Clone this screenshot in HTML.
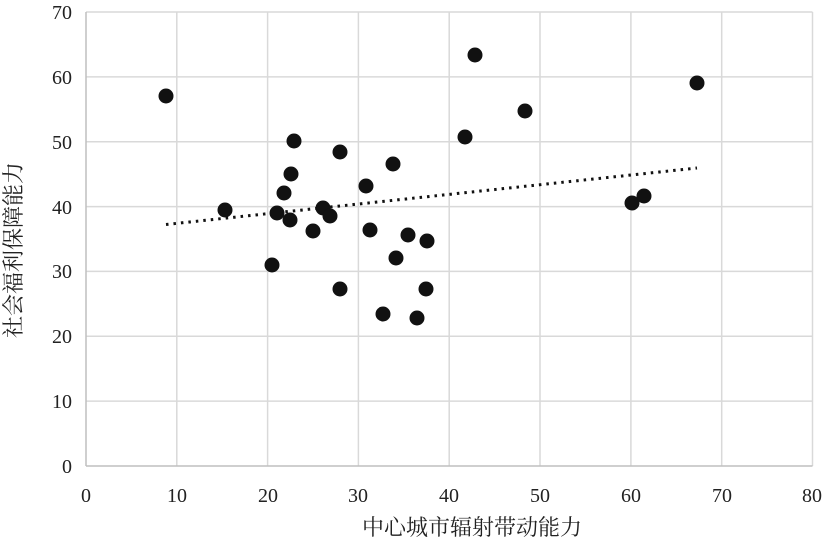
<!DOCTYPE html>
<html><head><meta charset="utf-8"><style>
html,body{margin:0;padding:0;background:#fff;}
</style></head><body>
<svg width="824" height="547" xmlns="http://www.w3.org/2000/svg" style="display:block">
<g stroke="#d9d9d9" stroke-width="1.5">
<line x1="86" y1="12" x2="812.5" y2="12"/>
<line x1="86" y1="76.9" x2="812.5" y2="76.9"/>
<line x1="86" y1="141.7" x2="812.5" y2="141.7"/>
<line x1="86" y1="206.6" x2="812.5" y2="206.6"/>
<line x1="86" y1="271.4" x2="812.5" y2="271.4"/>
<line x1="86" y1="336.3" x2="812.5" y2="336.3"/>
<line x1="86" y1="401.1" x2="812.5" y2="401.1"/>
<line x1="176.8" y1="12" x2="176.8" y2="466"/>
<line x1="267.6" y1="12" x2="267.6" y2="466"/>
<line x1="358.4" y1="12" x2="358.4" y2="466"/>
<line x1="449.2" y1="12" x2="449.2" y2="466"/>
<line x1="540" y1="12" x2="540" y2="466"/>
<line x1="630.9" y1="12" x2="630.9" y2="466"/>
<line x1="721.7" y1="12" x2="721.7" y2="466"/>
<line x1="812.5" y1="12" x2="812.5" y2="466"/>
</g>
<line x1="86" y1="12" x2="86" y2="466" stroke="#bfbfbf" stroke-width="1.5"/>
<line x1="86" y1="466" x2="812.5" y2="466" stroke="#bfbfbf" stroke-width="1.5"/>
<g font-family="Liberation Serif, serif" font-size="20" fill="#222" text-anchor="end">
<text x="72" y="19">70</text><text x="72" y="84">60</text><text x="72" y="149">50</text>
<text x="72" y="214">40</text><text x="72" y="278">30</text><text x="72" y="343">20</text>
<text x="72" y="408">10</text><text x="72" y="473">0</text>
</g>
<g font-family="Liberation Serif, serif" font-size="20" fill="#222" text-anchor="middle">
<text x="86" y="502">0</text><text x="177" y="502">10</text><text x="268" y="502">20</text>
<text x="358" y="502">30</text><text x="449" y="502">40</text><text x="540" y="502">50</text>
<text x="631" y="502">60</text><text x="722" y="502">70</text><text x="812" y="502">80</text>
</g>
<text x="472" y="535" font-family="Liberation Serif, 'Noto Serif CJK SC', serif" font-size="22" fill="#222" text-anchor="middle">中心城市辐射带动能力</text>
<text transform="translate(21,250) rotate(-90)" font-family="Liberation Serif, 'Noto Serif CJK SC', serif" font-size="22" fill="#222" text-anchor="middle">社会福利保障能力</text>
<line x1="166" y1="224.5" x2="697" y2="168" stroke="#111" stroke-width="3" stroke-dasharray="2.5,5"/>
<g fill="#111">
<circle cx="166" cy="96" r="7.5"/><circle cx="475" cy="55" r="7.5"/><circle cx="525" cy="111" r="7.5"/>
<circle cx="465" cy="137" r="7.5"/><circle cx="632" cy="203" r="7.5"/><circle cx="644" cy="196" r="7.5"/>
<circle cx="697" cy="83" r="7.5"/>
<circle cx="225" cy="210" r="7.5"/>
<circle cx="294" cy="141" r="7.5"/><circle cx="340" cy="152" r="7.5"/><circle cx="393" cy="164" r="7.5"/>
<circle cx="291" cy="174" r="7.5"/><circle cx="366" cy="186" r="7.5"/><circle cx="284" cy="193" r="7.5"/>
<circle cx="323" cy="208" r="7.5"/><circle cx="277" cy="213" r="7.5"/><circle cx="330" cy="216" r="7.5"/>
<circle cx="290" cy="220" r="7.5"/><circle cx="313" cy="231" r="7.5"/><circle cx="370" cy="230" r="7.5"/>
<circle cx="408" cy="235" r="7.5"/><circle cx="427" cy="241" r="7.5"/><circle cx="396" cy="258" r="7.5"/>
<circle cx="272" cy="265" r="7.5"/><circle cx="340" cy="289" r="7.5"/><circle cx="426" cy="289" r="7.5"/>
<circle cx="383" cy="314" r="7.5"/><circle cx="417" cy="318" r="7.5"/>
</g>
</svg>
</body></html>
